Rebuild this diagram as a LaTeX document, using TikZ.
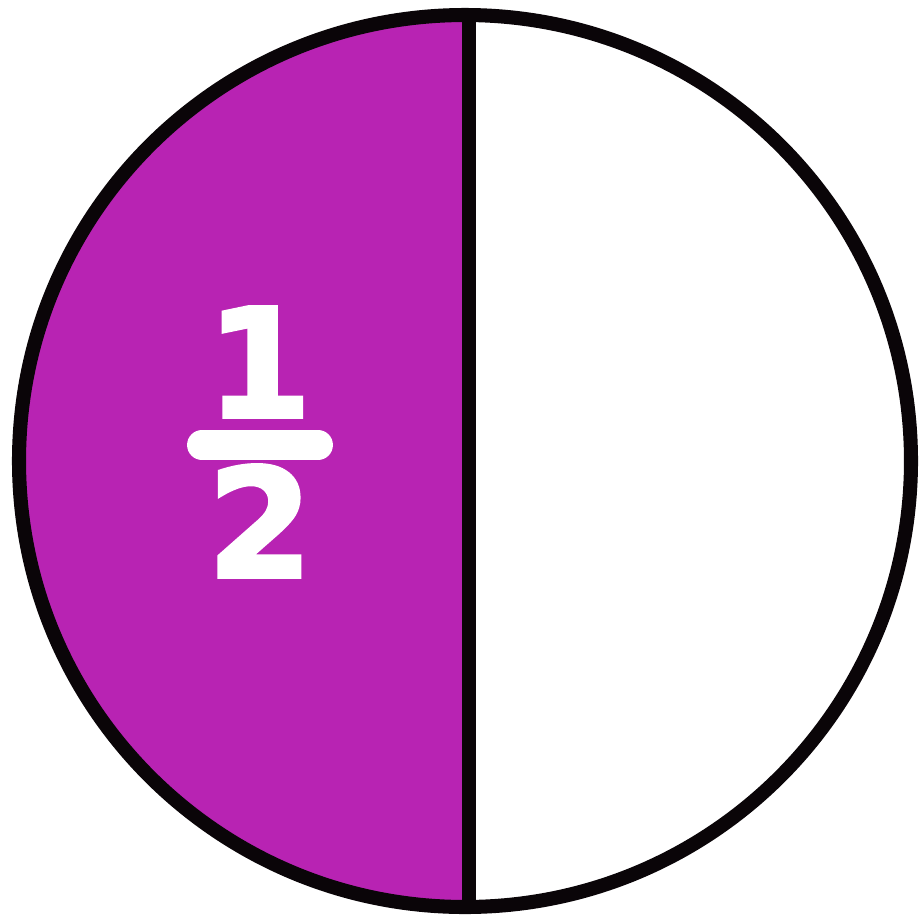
\documentclass[tikz,border=0pt]{standalone}
\usepackage{fontspec}
\newfontfamily\numfont{DejaVu Sans Bold}[FakeBold=2.5]
\usetikzlibrary{calc}
\definecolor{cpurple}{HTML}{B823B3}
\definecolor{cink}{HTML}{0A0508}
\tikzset{
  every picture/.style={x=0.02cm, y=-0.02cm},
  rim/.style={draw=cink, line width=8pt},
  digit/.style={text=white, inner sep=0pt, font=\numfont\fontsize{86}{86}\selectfont},
  fracbar/.style={draw=white, line width=17pt, line cap=round},
}

\begin{document}
\begin{tikzpicture}
  \useasboundingbox (0,0) rectangle (921,924);
  \coordinate (c) at (465,461);
  % left half shaded
  \fill[cpurple] (465,15) arc[start angle=-90, end angle=-270, radius=446] -- cycle;
  \draw[rim] (c) circle[radius=446];
  \draw[rim] (469,15) -- (469,907);
  % the fraction
  \node[digit] (num) at (259,362) {1};
  \node[digit] (den) at (260,521) {2};
  \coordinate (barL) at (202,445);
  \coordinate (barR) at (318,445);
  \draw[fracbar] (barL) -- (barR);
\end{tikzpicture}
\end{document}
